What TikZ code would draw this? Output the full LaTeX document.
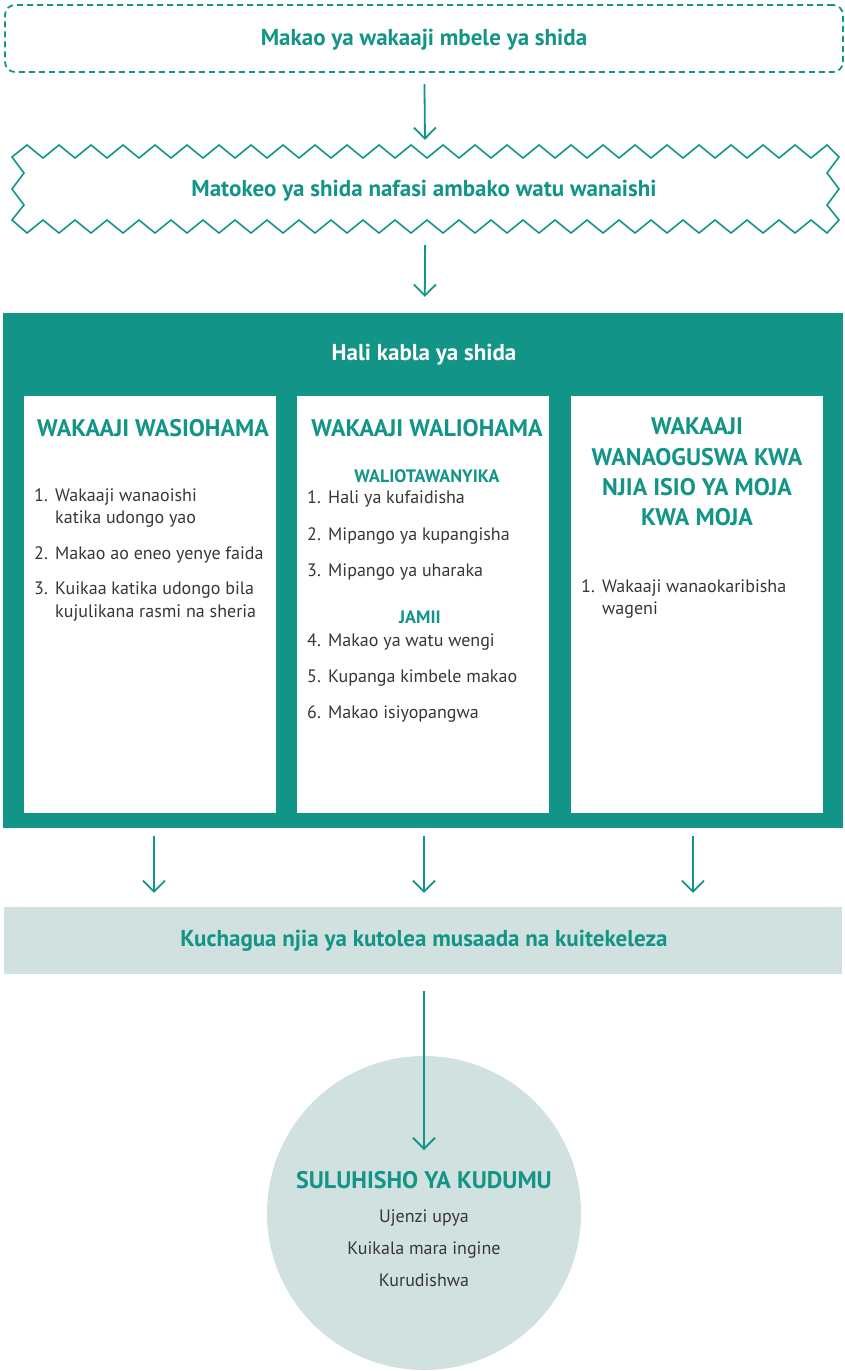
\documentclass[tikz,border=0pt]{standalone}
\usepackage{fontspec}
\setmainfont{PT Sans}
\usetikzlibrary{arrows.meta}
\definecolor{teal1}{RGB}{18,148,134}
\definecolor{pale}{RGB}{208,225,223}
\definecolor{ink}{RGB}{55,55,55}
\begin{document}
\begin{tikzpicture}[x=1pt,y=-1pt,
  arr/.style={draw=teal1, line width=1.8pt, -{Straight Barb[length=11pt,width=22pt]}},
  boxtitle/.style={text=teal1, font=\bfseries\fontsize{23}{27}\selectfont, anchor=mid, yshift=-4pt},
  hd/.style={text=teal1, font=\bfseries\fontsize{24}{30.5}\selectfont, align=center, anchor=mid, yshift=-4pt},
  sub/.style={text=teal1, font=\bfseries\fontsize{18}{20}\selectfont, anchor=mid, yshift=-4pt},
  item/.style={text=ink, font=\fontsize{18}{22}\selectfont, anchor=mid west, inner sep=0pt, yshift=-4pt},
  ctext/.style={text=ink, font=\fontsize{18}{22}\selectfont, anchor=mid, inner sep=0pt, yshift=-4pt},
  colbox/.style={fill=white, draw=none, minimum width=252pt, minimum height=417pt, inner sep=0pt}
]
\useasboundingbox (0,0) rectangle (845,1371);

% top dashed box
\node[draw=teal1, line width=1.8pt, dash pattern=on 6pt off 4pt, rounded corners=10pt,
      minimum width=838pt, minimum height=67pt, inner sep=0pt] (top) at (424,38.5) {};
\node[boxtitle] (toptxt) at (424,39) {Makao ya wakaaji mbele ya shida};

% zigzag box
\node[minimum width=827pt, minimum height=90pt, inner sep=0pt] (zz) at (425.5,190) {};
\draw[teal1, line width=1.6pt, line join=miter]
  (12,157)
  \foreach \k in {0,...,24} { -- ({27+32*\k},145) -- ({43+32*\k},158) } -- (827,145)
  -- (839,157) -- (827,173) -- (839,189) -- (827,205) -- (839,220)
  \foreach \k in {25,24,...,1} { -- ({27+32*\k},233) -- ({11+32*\k},220) } -- (27,233)
  -- (12,220) -- (24,205) -- (12,189) -- (24,173) -- cycle;
\node[boxtitle] (zztxt) at (424,190) {Matokeo ya shida nafasi ambako watu wanaishi};

\draw[arr, shorten <=11pt, shorten >=5pt] (top) -- (zz);

% big teal box
\node[fill=teal1, minimum width=840pt, minimum height=515pt, inner sep=0pt] (big) at (423,570.5) {};
\node[boxtitle, text=white] (bigtitle) at (424,354) {Hali kabla ya shida};
\draw[arr, shorten <=10pt, shorten >=16pt] (zz) -- (big);

\node[colbox] (col1) at (150,604.5) {};
\node[colbox] (col2) at (423,604.5) {};
\node[colbox] (col3) at (697,604.5) {};

% column 1
\node[hd] (h1) at (153,430) {WAKAAJI WASIOHAMA};
\node[item] (c1n1) at (34,495) {1.};
\node[item] (c1t1) at (55,495) {Wakaaji wanaoishi};
\node[item] (c1t1b) at (55,517) {katika udongo yao};
\node[item] (c1n2) at (34,553) {2.};
\node[item] (c1t2) at (55,553) {Makao ao eneo yenye faida};
\node[item] (c1n3) at (34,588) {3.};
\node[item] (c1t3) at (55,588) {Kuikaa katika udongo bila};
\node[item] (c1t3b) at (55,611) {kujulikana rasmi na sheria};

% column 2
\node[hd] (h2) at (427,430) {WAKAAJI WALIOHAMA};
\node[sub] (s21) at (427,476) {WALIOTAWANYIKA};
\node[item] (c2n1) at (307,497) {1.};
\node[item] (c2t1) at (328,497) {Hali ya kufaidisha};
\node[item] (c2n2) at (307,534) {2.};
\node[item] (c2t2) at (328,534) {Mipango ya kupangisha};
\node[item] (c2n3) at (307,570) {3.};
\node[item] (c2t3) at (328,570) {Mipango ya uharaka};
\node[sub] (s22) at (420,617) {JAMII};
\node[item] (c2n4) at (307,640) {4.};
\node[item] (c2t4) at (328,640) {Makao ya watu wengi};
\node[item] (c2n5) at (307,676) {5.};
\node[item] (c2t5) at (328,676) {Kupanga kimbele makao};
\node[item] (c2n6) at (307,712) {6.};
\node[item] (c2t6) at (328,712) {Makao isiyopangwa};

% column 3
\node[hd] (h3a) at (697,428) {WAKAAJI};
\node[hd] (h3b) at (697,459) {WANAOGUSWA KWA};
\node[hd] (h3c) at (697,489) {NJIA ISIO YA MOJA};
\node[hd] (h3d) at (697,519) {KWA MOJA};
\node[item] (c3n1) at (581,586) {1.};
\node[item] (c3t1) at (602,586) {Wakaaji wanaokaribisha};
\node[item] (c3t1b) at (602,608) {wageni};

% choose box
\node[fill=pale, minimum width=838pt, minimum height=67pt, inner sep=0pt] (choose) at (423,940.5) {};
\node[boxtitle] (choosetxt) at (424,940) {Kuchagua njia ya kutolea musaada na kuitekeleza};

\draw[arr, shorten <=8pt, shorten >=14pt] ([xshift=4pt]col1.south |- big.south) -- ([xshift=4pt]col1.south |- choose.north);
\draw[arr, shorten <=8pt, shorten >=14pt] ([xshift=1pt]col2.south |- big.south) -- ([xshift=1pt]col2.south |- choose.north);
\draw[arr, shorten <=8pt, shorten >=14pt] ([xshift=-4pt]col3.south |- big.south) -- ([xshift=-4pt]col3.south |- choose.north);

% circle
\node[circle, fill=pale, minimum size=314pt, inner sep=0pt] (sol) at (424,1213) {};
\coordinate (soltip) at (424,1150);
\draw[arr, shorten <=17pt] (choose.south -| soltip) -- (soltip);
\node[hd] (solhd) at (424,1182) {SULUHISHO YA KUDUMU};
\node[ctext] (s1) at (424,1216) {Ujenzi upya};
\node[ctext] (s2) at (424,1248) {Kuikala mara ingine};
\node[ctext] (s3) at (424,1280) {Kurudishwa};
\end{tikzpicture}
\end{document}
